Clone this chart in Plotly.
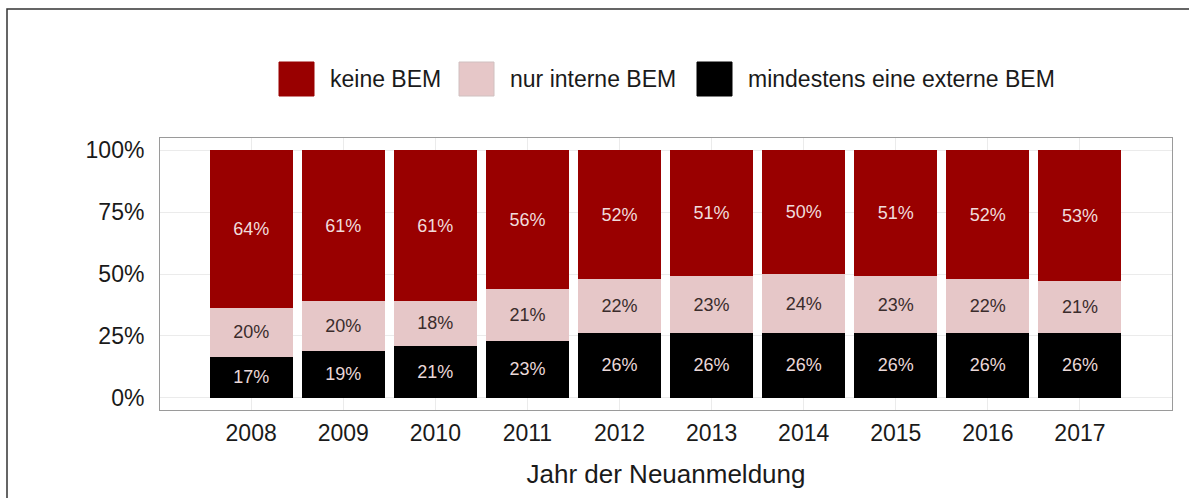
import plotly.graph_objects as go

years = ["2008", "2009", "2010", "2011", "2012", "2013", "2014", "2015", "2016", "2017"]
keine_bem = [63.8, 61, 61, 56, 52, 51, 50, 51, 52, 53]
nur_interne = [19.6, 20, 18, 21, 22, 23, 24, 23, 22, 21]
externe = [16.6, 19, 21, 23, 26, 26, 26, 26, 26, 26]
y_ticks = [0, 25, 50, 75, 100]
y_ticktext = ["0%", "25%", "50%", "75%", "100%"]

series = [
    ("mindestens eine externe BEM", externe, "#000000", "#ead8d8"),
    ("nur interne BEM", nur_interne, "#e6c7c8", "#3a2c2c"),
    ("keine BEM", keine_bem, "#990000", "#f0dcdc"),
]

W, H = 1189, 498
ML, MR, MT, MB = 160, 17, 138, 88
PW, PH = W - ML - MR, H - MT - MB

def px(x):
    return (x - ML) / PW

def py(y):
    return (H - MB - y) / PH

xpos = list(range(len(years)))
fig = go.Figure()
for name, vals, color, tcol in series:
    fig.add_trace(go.Bar(
        x=xpos, y=vals, name=name, marker=dict(color=color, line=dict(width=0)),
        width=0.9, text=[f"{v:.0f}%" for v in vals], textposition="inside",
        insidetextanchor="middle", textangle=0,
        textfont=dict(color=tcol, size=18, family="Liberation Sans, Arial"),
        showlegend=False,
    ))

fig.update_layout(
    barmode="stack", width=W, height=H,
    margin=dict(l=ML, r=MR, t=MT, b=MB),
    paper_bgcolor="white", plot_bgcolor="white",
    font=dict(family="Liberation Sans, Arial", color="#1a1a1a"),
    showlegend=False,
)
fig.update_xaxes(
    range=[-0.99, 10.0], tickvals=xpos, ticktext=years,
    showgrid=True, gridcolor="#ebebeb", gridwidth=1,
    ticks="outside", ticklen=2, tickcolor="rgba(0,0,0,0)",
    tickfont=dict(size=23, color="#1a1a1a"),
    showline=True, linecolor="#9a9a9a", linewidth=1, mirror=True,
    title=dict(text="Jahr der Neuanmeldung", font=dict(size=26, color="#1a1a1a"), standoff=20),
    zeroline=False,
)
fig.update_yaxes(
    range=[-5, 105], tickvals=y_ticks, ticktext=y_ticktext,
    showgrid=True, gridcolor="#ebebeb", gridwidth=1,
    ticks="outside", ticklen=10, tickcolor="rgba(0,0,0,0)",
    tickfont=dict(size=23, color="#1a1a1a"),
    showline=True, linecolor="#9a9a9a", linewidth=1, mirror=True,
    zeroline=False,
)

# outer frame (top and left edges visible)
fig.add_shape(type="rect", xref="paper", yref="paper",
              x0=px(7), x1=px(W + 20), y0=py(9), y1=py(H + 20),
              line=dict(color="#333333", width=1.5), layer="below")

# manual legend with large keys
legend_items = [
    ("keine BEM", "#990000", 279, 328),
    ("nur interne BEM", "#e6c7c8", 459, 508),
    ("mindestens eine externe BEM", "#000000", 697, 746),
]
for label, color, kx, tx in legend_items:
    fig.add_shape(type="rect", xref="paper", yref="paper",
                  x0=px(kx), x1=px(kx + 35), y0=py(96), y1=py(62),
                  fillcolor=color, line=dict(color="#d0c0c0" if color == "#e6c7c8" else color, width=1))
    fig.add_annotation(xref="paper", yref="paper", x=px(tx), y=py(79),
                       text=label, showarrow=False, xanchor="left", yanchor="middle",
                       font=dict(size=23, color="#1a1a1a"))

fig.write_html("out.html", config={"displayModeBar": False},
               post_script="document.body.style.margin='0px';document.body.style.overflow='hidden';")
